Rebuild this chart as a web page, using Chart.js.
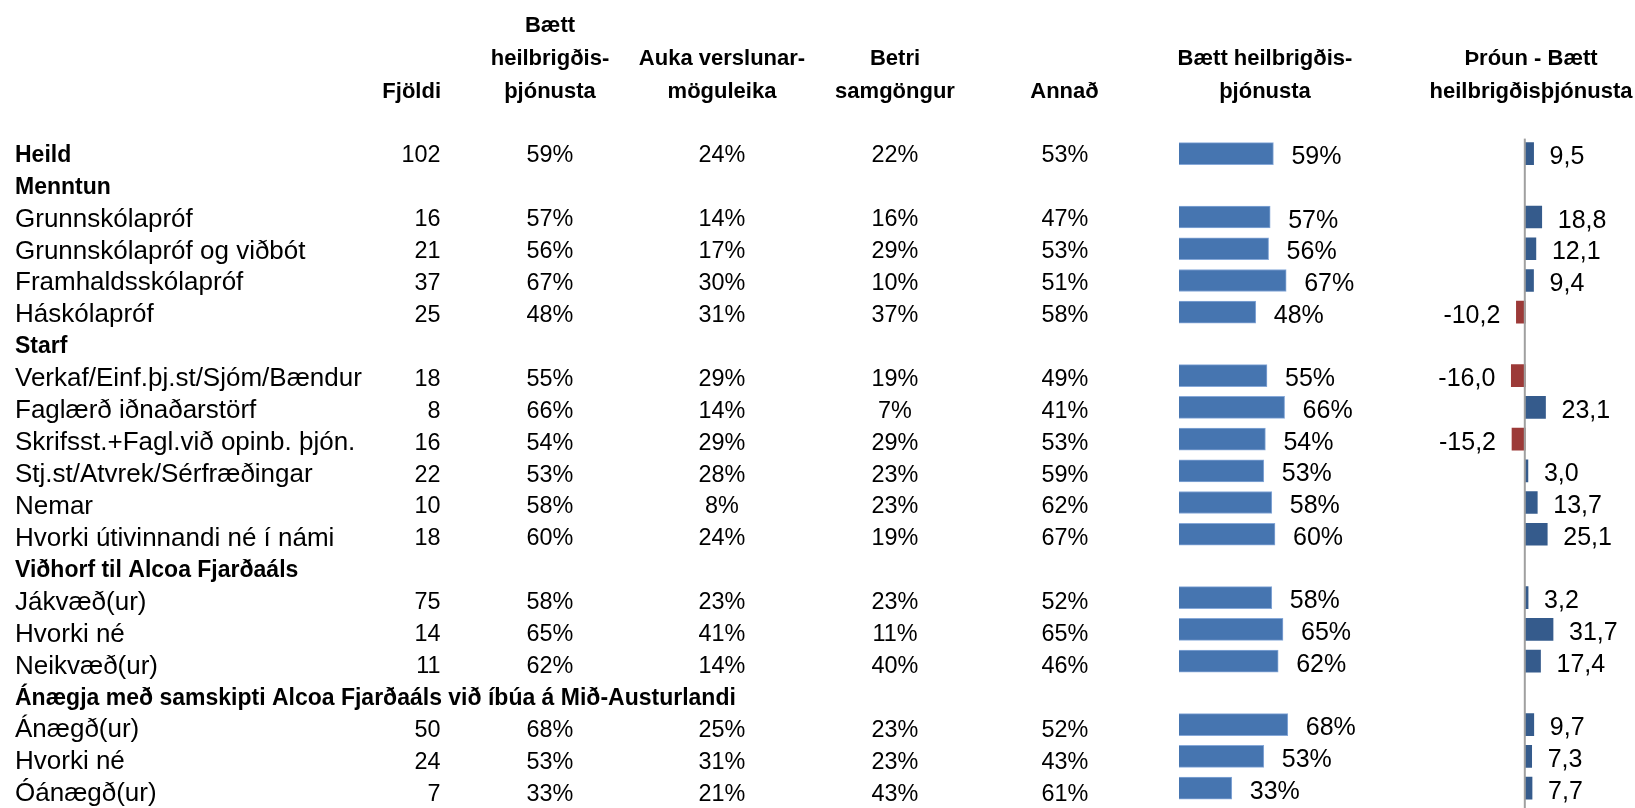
<!DOCTYPE html>
<html><head><meta charset="utf-8">
<script src="https://cdn.jsdelivr.net/npm/chart.js@4/dist/chart.umd.min.js"></script>
<style>html,body{margin:0;padding:0;background:#fff;overflow:hidden}#wrap{position:relative;width:1635px;height:808px}</style>
</head><body><div id="wrap"><canvas id="c"></canvas></div>
<script>
const rowLabels = ['Heild','Menntun','Grunnskólapróf','Grunnskólapróf og viðbót','Framhaldsskólapróf','Háskólapróf','Starf','Verkaf/Einf.þj.st/Sjóm/Bændur','Faglærð iðnaðarstörf','Skrifsst.+Fagl.við opinb. þjón.','Stj.st/Atvrek/Sérfræðingar','Nemar','Hvorki útivinnandi né í námi','Viðhorf til Alcoa Fjarðaáls','Jákvæð(ur)','Hvorki né','Neikvæð(ur)','Ánægja með samskipti Alcoa Fjarðaáls við íbúa á Mið-Austurlandi','Ánægð(ur)','Hvorki né','Óánægð(ur)'];
const boldRows = [0,1,6,13,17];
const fjoldi = [102,null,16,21,37,25,null,18,8,16,22,10,18,null,75,14,11,null,50,24,7];
const baett  = [59,null,57,56,67,48,null,55,66,54,53,58,60,null,58,65,62,null,68,53,33];
const auka   = [24,null,14,17,30,31,null,29,14,29,28,8,24,null,23,41,14,null,25,31,21];
const betri  = [22,null,16,29,10,37,null,19,7,29,23,23,19,null,23,11,40,null,23,23,43];
const annad  = [53,null,47,53,51,58,null,49,41,53,59,62,67,null,52,65,46,null,52,43,61];
const throun = [9.5,null,18.8,12.1,9.4,-10.2,null,-16.0,23.1,-15.2,3.0,13.7,25.1,null,3.2,31.7,17.4,null,9.7,7.3,7.7];
const colHeaders = [['Fjöldi'],['Bætt','heilbrigðis-','þjónusta'],['Auka verslunar-','möguleika'],['Betri','samgöngur'],['Annað'],['Bætt heilbrigðis-','þjónusta'],['Þróun - Bætt','heilbrigðisþjónusta']];

const FONT = "'Liberation Sans', Arial, sans-serif";
const pct = v => v + '%';
const dec = v => v.toFixed(1).replace('.', ',');

const tablePlugin = {
  id: 'tablePlugin',
  afterDatasetsDraw(chart) {
    const ctx = chart.ctx, ys = chart.scales.y, x2 = chart.scales.x2, area = chart.chartArea;
    ctx.save();
    // axis line for Þróun chart
    const zx = x2.getPixelForValue(0);
    ctx.fillStyle = '#A0A0A0';
    ctx.fillRect(zx - 1.5, area.top + 1, 2, chart.height - area.top);
    ctx.fillStyle = '#000';
    ctx.textBaseline = 'alphabetic';
    // column headers
    const hx = [441, 550, 722, 895, 1064.5, 1265, 1531];
    const ha = ['right','center','center','center','center','center','center'];
    ctx.font = 'bold 22px ' + FONT;
    colHeaders.forEach((lines, i) => {
      ctx.textAlign = ha[i];
      lines.forEach((t, j) => ctx.fillText(t, hx[i], 98 - (lines.length - 1 - j) * 33));
    });
    // table values
    const cols = [[fjoldi, 440.5, 'right', v => String(v)], [baett, 550, 'center', pct], [auka, 722, 'center', pct], [betri, 895, 'center', pct], [annad, 1065, 'center', pct]];
    ctx.font = '23.4px ' + FONT;
    rowLabels.forEach((_, r) => {
      const yy = ys.getPixelForValue(r) + 8.7;
      cols.forEach(([arr, x, al, f]) => {
        if (arr[r] == null) return;
        ctx.textAlign = al;
        ctx.fillText(f(arr[r]), x, yy);
      });
    });
    // bar labels
    ctx.font = '25px ' + FONT;
    chart.getDatasetMeta(0).data.forEach((el, i) => {
      if (baett[i] == null) return;
      ctx.textAlign = 'left';
      ctx.fillText(pct(baett[i]), el.x + 18, el.y + 10.5);
    });
    chart.getDatasetMeta(1).data.forEach((el, i) => {
      const v = throun[i];
      if (v == null) return;
      if (v >= 0) { ctx.textAlign = 'left'; ctx.fillText(dec(v), el.x + 16, el.y + 10.5); }
      else { ctx.textAlign = 'right'; ctx.fillText(dec(v), el.x - 16, el.y + 10.5); }
    });
    ctx.restore();
  }
};

const baettPts = baett.map((v, i) => ({ x: v, y: i }));
const throunPts = throun.map((v, i) => ({ x: v, y: i }));

new Chart(document.getElementById('c'), {
  type: 'bar',
  data: {
    labels: rowLabels,
    datasets: [
      { label: 'Bætt heilbrigðisþjónusta', data: baettPts, xAxisID: 'x', yAxisID: 'yb', backgroundColor: '#4675B0', borderColor: '#86A8D8', borderWidth: 1, grouped: false, barThickness: 22 },
      { label: 'Þróun - Bætt heilbrigðisþjónusta', data: throunPts, xAxisID: 'x2', yAxisID: 'yb', backgroundColor: c => (c.raw && c.raw.x < 0 ? '#9C3A38' : '#355B8C'), borderWidth: 0, grouped: false, barThickness: 22 }
    ]
  },
  options: {
    indexAxis: 'y',
    responsive: true,
    maintainAspectRatio: false,
    animation: false,
    layout: { padding: { left: 15, right: 0, top: 137.6, bottom: -1.6 } },
    plugins: { legend: { display: false }, tooltip: { enabled: false } },
    scales: {
      y: {
        type: 'category',
        position: 'left',
        offset: true,
        grid: { display: false, drawTicks: false },
        border: { display: false },
        afterFit: s => { s.width = 735; s.paddingTop = 0; s.paddingBottom = 0; },
        ticks: {
          autoSkip: false,
          crossAlign: 'far',
          padding: 0,
          labelOffset: 2,
          color: '#000',
          font: c => boldRows.includes(c.index) ? { family: FONT, size: 23, weight: 'bold' } : { family: FONT, size: 26, weight: 'normal' }
        }
      },
      yb: { type: 'linear', display: false, reverse: true, offset: false, min: -0.50314, max: 20.629 },
      x: { type: 'linear', display: false, min: -268.125, max: 285 },
      x2: { type: 'linear', display: false, min: -886.06, max: 125.37 }
    }
  },
  plugins: [tablePlugin]
});
</script>
</body></html>
